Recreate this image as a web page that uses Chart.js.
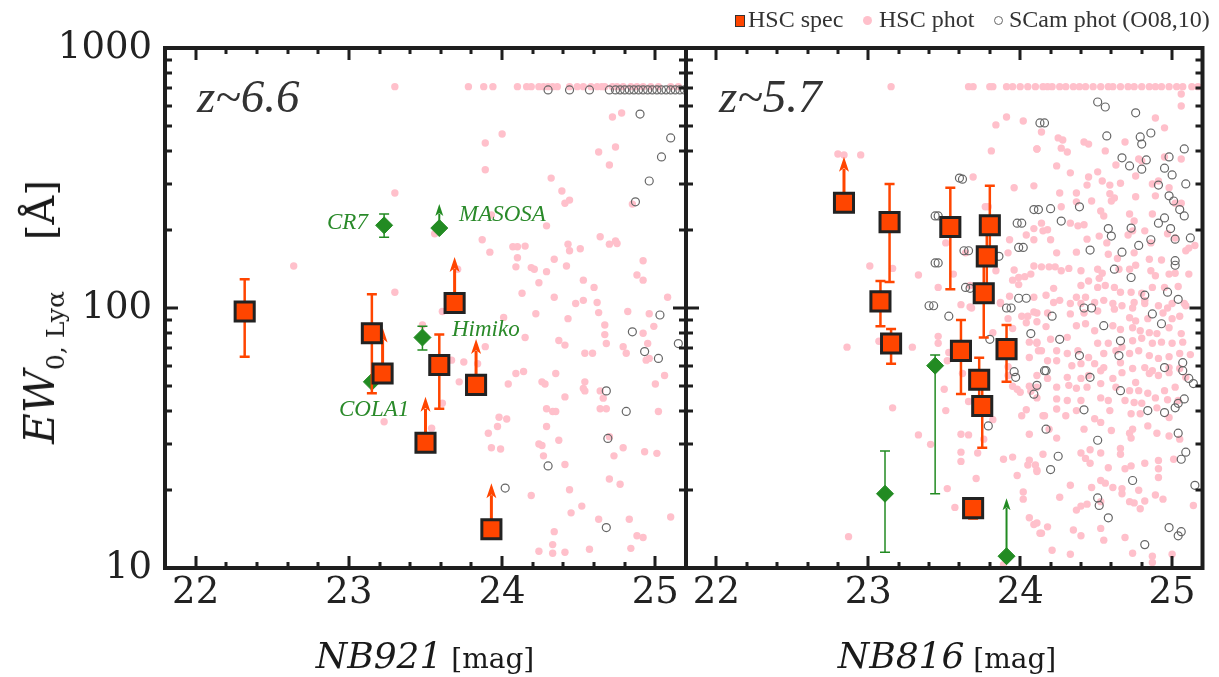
<!DOCTYPE html>
<html>
<head>
<meta charset="utf-8">
<script src="https://cdn.jsdelivr.net/npm/chart.js@4.4.1/dist/chart.umd.min.js"></script>
<style>
  html, body { margin: 0; padding: 0; background: #fff; }
  #wrap { position: relative; width: 1219px; height: 677px; overflow: hidden; }
  canvas { position: absolute; left: 0; top: 0; }
  .txt { position: absolute; white-space: nowrap; line-height: 1; }
  .zlab { font: italic 47px 'Liberation Serif'; color: #333; top: 69px; }
  .lit { font: italic 23px 'Liberation Serif'; color: #2a8a2a; }
  .leg { font: 24px 'Liberation Serif'; color: #333; top: 6px; }
  .mk { position: absolute; box-sizing: border-box; }
  .xt { font-family: 'DejaVu Serif'; color: #1a1a1a; top: 638px; transform: translateX(-50%); }
</style>
</head>
<body>
<div id="wrap">
  <canvas id="left921" width="1219" height="677"></canvas>
  <canvas id="right816" width="1219" height="677"></canvas>

  <div class="mk" style="left:735px;top:15px;width:10px;height:12px;background:#ff4500;border:1.5px solid #333"></div>
  <div class="txt leg" style="left:748px">HSC spec</div>
  <div class="mk" style="left:863px;top:16px;width:9px;height:9px;border-radius:50%;background:#ffc0cb"></div>
  <div class="txt leg" style="left:879px">HSC phot</div>
  <div class="mk" style="left:994px;top:16px;width:9px;height:9px;border-radius:50%;border:1px solid #666"></div>
  <div class="txt leg" style="left:1009px">SCam phot (O08,10)</div>

  <div class="txt zlab" style="left:197px">z~6.6</div>
  <div class="txt zlab" style="left:719px">z~5.7</div>

  <div class="txt lit" style="left:327px;top:209px">CR7</div>
  <div class="txt lit" style="left:459px;top:201px">MASOSA</div>
  <div class="txt lit" style="left:452px;top:316px">Himiko</div>
  <div class="txt lit" style="left:339px;top:396px">COLA1</div>

  <div class="txt xt" style="left:425px"><span style="font-style:italic;font-size:36px">NB921</span><span style="font-size:28px"> [mag]</span></div>
  <div class="txt xt" style="left:947px"><span style="font-style:italic;font-size:36px">NB816</span><span style="font-size:28px"> [mag]</span></div>

  <div class="txt" style="left:40px;top:312px;transform:translate(-50%,-50%) rotate(-90deg);font-family:'DejaVu Serif';color:#1a1a1a">
    <span style="font-style:italic;font-size:42px">EW</span><span style="font-size:25px;position:relative;top:10px">0, Lyα</span><span style="font-size:40px">&nbsp;&nbsp;&nbsp;&nbsp;[Å]</span>
  </div>
</div>

<script>
// EW0(Lya) vs NB magnitude, z~6.6 (NB921) and z~5.7 (NB816)
const magTicks = [22, 23, 24, 25];
const ewTicks = [10, 100, 1000];

// z~6.6 spectroscopic (HSC spec)
const spec921Mag = [22.32, 23.15, 23.22, 23.50, 23.59, 23.69, 23.83, 23.93];
const spec921EW  = [97, 80, 56, 30.3, 60.4, 104.5, 50.6, 14.1];
const spec921Lo  = [65, 47, null, null, 41, null, null, null];
const spec921Hi  = [129, 113, null, null, 79, null, null, null];
const spec921Lim = [false, false, true, true, false, true, true, true];

// z~6.6 known objects
const lit921Name = ['CR7', 'MASOSA', 'Himiko', 'COLA1'];
const lit921Mag  = [23.23, 23.59, 23.48, 23.15];
const lit921EW   = [208, 203, 77, 52];
const lit921Lo   = [187, null, 69, null];
const lit921Hi   = [230, null, 85, null];
const lit921Lim  = [false, true, false, false];

// z~5.7 spectroscopic (HSC spec)
const spec816Mag = [22.84, 23.14, 23.08, 23.15, 23.54, 23.80, 23.78, 23.76, 23.61, 23.73, 23.75, 23.91, 23.69];
const spec816EW  = [254, 214, 106, 73, 205, 208, 158, 114, 68.4, 53, 42, 69.5, 17];
const spec816Lo  = [null, 126, 85, 61, 118, 150, 110, 77, 46.7, 40, 29, 52, 15.5];
const spec816Hi  = [null, 300, 127, 83, 290, 295, 210, 150, 90, 64.3, 52, 86, 18.5];
const spec816Lim = [true, false, false, false, false, false, false, false, false, false, false, false, false];

// z~5.7 known objects
const lit816Mag = [23.11, 23.44, 23.91];
const lit816EW  = [19.3, 60, 11.1];
const lit816Lo  = [11.5, 19.3, null];
const lit816Hi  = [28.2, 66, null];
const lit816Lim = [false, false, true];

// HSC photometric candidates [mag, EW]
const phot921 = [
  [23.30,710],[23.78,710],[23.88,710],[23.94,710],[24.10,710],[24.16,710],[24.19,710],[24.24,710],[24.27,710],[24.30,710],
  [24.33,710],[24.36,710],[24.44,710],[24.49,710],[24.53,710],[24.58,710],[24.62,710],[24.65,710],[24.67,710],[24.72,710],
  [24.75,710],[24.79,710],[24.84,710],[24.88,710],[24.92,710],[24.97,710],[25.02,710],[25.10,710],[25.15,710],
  [24.72,543],[24.78,562],[24.00,467],[23.89,431],[24.63,398],[24.74,416],[23.89,340],[24.70,355],[24.32,316],[24.39,282],
  [24.41,253],[24.44,260],[23.30,277],[24.85,251],[23.93,228],[24.29,207],[23.56,193],[23.87,183],[23.92,164],[24.07,172],
  [24.10,172],[24.15,173],[24.43,176],[24.44,166],[24.51,169],[24.64,188],[24.70,176],[24.74,181],[24.75,177],[24.10,156],
  [24.34,154],[24.92,152],[22.64,145],[23.71,141],[24.09,144],[24.19,143],[24.21,141],[24.29,138],[24.42,145],[24.24,125],
  [24.53,128],[24.60,120],[24.88,134],[24.92,128],[23.30,115],[24.13,114],[24.34,110],[24.53,107],[24.48,104],[24.62,105],
  [25.08,110],[24.01,92],[24.22,95],[24.43,91],[24.63,96],[24.82,97],[24.96,95],[24.99,85],[24.15,77],[24.37,75],
  [24.41,72],[24.67,86],[24.67,79],[24.68,73],[24.79,71],[24.92,80],[24.95,73],[23.89,71],[23.67,63],[23.75,62],
  [23.84,61],[24.54,67],[24.59,67],[24.81,67],[24.94,63],[24.96,64],[24.09,56],[24.14,57],[24.35,56],[24.26,52],
  [24.28,51],[24.54,52],[24.53,49],[24.54,48],[24.64,48],[24.66,45],[25.06,55],[25.00,51],[23.72,52],[24.04,51],
  [24.41,45.5],[24.29,41],[24.33,40],[24.35,40],[24.64,41],[24.68,41],[25.02,40],[23.98,38],[24.03,37.4],[23.97,35],
  [23.91,33],[24.29,35],[23.93,29],[23.99,28.7],[24.24,30],[24.26,29.6],[24.27,27],[24.37,31],[24.41,25],[24.70,32],
  [24.79,29],[24.73,27],[24.93,28],[25.01,27.6],[23.54,34.5],[23.23,36.5],[23.61,43],[23.48,86],[23.61,97],[24.70,22],
  [24.77,21],[24.44,20],[24.19,19],[24.45,16.3],[24.52,17.3],[24.63,15.4],[24.83,15.4],[25.10,15.7],[24.34,13.8],[24.88,13.3],
  [24.92,13.1],[24.33,12.3],[24.24,11.6],[24.33,11.4],[24.41,11.5],[24.57,11.8],[24.84,11.9]
];

// Suprime-Cam photometric (O08,10) [mag, EW]
const scam921 = [
  [24.30,690],[24.44,690],[24.57,690],[24.70,690],[24.74,690],[24.77,690],[24.80,690],[24.83,690],[24.86,690],[24.89,690],
  [24.92,690],[24.95,690],[24.98,690],[25.01,690],[25.04,690],[25.07,690],[25.10,690],[25.13,690],[25.16,690],[25.19,690],
  [24.90,557],[25.10,451],[25.04,381],[24.96,308],[24.87,256],[25.03,94],[24.85,81],[24.93,68],[25.02,64],[25.15,73],
  [24.68,48],[24.81,40],[24.69,31.5],[24.30,24.7],[24.02,20.3],[24.68,14.3]
];

const phot816 = [
  [23.15,710],[23.66,710],[23.69,710],[23.80,710],[23.82,710],[23.91,710],[23.95,710],[24.00,710],[24.05,710],[24.10,710],
  [24.15,710],[24.18,710],[24.21,710],[24.26,710],[24.30,710],[24.35,710],[24.39,710],[24.43,710],[24.48,710],[24.53,710],
  [24.58,710],[24.61,710],[24.66,710],[24.71,710],[24.75,710],[24.80,710],[24.85,710],[24.89,710],[24.93,710],[24.98,710],
  [25.03,710],[25.07,710],[25.13,710],[25.17,710],
  [22.80,391],[22.84,388],[22.95,388],[23.01,145],[22.86,70.7],[22.87,13.2],[23.07,74.5],
  [23.91,543],[23.84,506],[24.02,524],[24.11,409],[23.81,402],[23.69,319],[23.96,290],[24.09,295],[23.77,245],[23.79,245],
  [23.93,183],[24.04,191],[24.09,183],[24.09,202],[23.92,163],[23.64,163],[23.51,178],[23.96,140],[23.95,128],[23.99,131],
  [24.03,132],[24.07,135],[23.99,123],[24.09,145],[23.33,134],[23.16,142],[23.46,120],[23.56,135],[23.67,122],[23.61,103],
  [23.67,101],[23.87,105],[23.93,111],[24.09,110],[23.84,139],
  [23.68,100],[23.87,104],[23.92,91],[24.01,93],[24.05,93],[24.09,96.5],[24.04,87.7],[24.11,88.5],[23.95,83.4],[23.46,77.8],
  [23.46,73.2],[23.29,70.7],[23.82,80.4],[24.06,73.9],[24.11,73.2],[24.12,68.5],[24.06,64.5],[23.53,67.4],[23.52,62.7],[23.16,41.3],
  [23.50,48.7],[23.51,40.3],[23.62,56],[23.66,43.7],[23.92,59.5],[23.92,55],[23.95,50],[23.98,48.7],[24.00,47.4],[24.06,50],
  [24.07,47.8],[24.04,40.6],[24.01,38.5],[24.06,32.7],[24.15,38.5],[23.82,37.2],[23.76,31.3],[23.61,32.7],[23.66,32.5],[23.33,32.5],
  [23.41,29.9],[23.61,27.9],[23.61,25.7],[23.72,27.7],[23.89,26.2],[23.95,26.7],[24.06,26],[24.05,24.9],[24.10,24.9],[24.11,23.5],
  [23.98,22.7],[23.71,22.1],[24.02,19.6],[24.02,18.4],[23.52,20.2],[23.57,17.1],[24.06,15.6],[24.09,14.7],[24.13,13.6],[23.89,10.3],
  [25.06,665],[25.06,598],[24.89,538],[24.95,493],[24.14,475],[24.25,451],[24.28,443],[24.42,435],[24.45,427],[24.11,409],
  [24.27,412],[24.31,398],[24.56,402],[24.69,435],[24.78,374],[24.80,368],[24.95,381],[25.06,374],[24.24,352],[24.33,331],
  [24.51,334],[24.63,355],[24.76,322],[24.45,319],[24.44,297],[24.54,308],[24.59,297],[24.66,302],[24.91,308],[24.98,290],
  [24.87,300],[24.26,277],[24.37,277],[24.59,275],[24.62,265],[24.76,268],[24.89,270],[24.27,245],[24.37,256],[24.47,258],
  [24.60,258],[25.02,253],[25.06,253],[24.53,236],[24.55,226],[24.72,230],[24.75,216],[24.87,230],[24.14,212],[24.33,212],
  [24.38,207],[24.42,209],[24.15,198],[24.18,200],[24.20,183],[24.44,184],[24.52,189],[24.57,178],[24.74,198],[24.82,198],
  [24.71,191],[24.86,178],[25.02,186],[24.97,193],[25.11,170],[25.09,166],[25.15,174],[24.24,163],[24.37,164],[24.58,161],
  [24.64,155],[24.75,163],[24.85,154],[24.93,153],[24.14,144],[24.19,144],[24.23,144],[24.27,139],[24.32,142],[24.40,139],
  [24.51,141],[24.54,136],[24.52,130],[24.45,127],[24.65,141],[24.72,141],[24.76,146],[24.86,139],[24.89,133],[24.98,135],
  [25.02,136],[25.11,135],[24.40,122],[24.51,120],[24.56,122],[24.62,120],[24.66,115],[24.73,115],[24.80,114],[24.87,120],
  [24.95,120],[25.04,121],[24.22,119],[24.17,112],[24.26,107],[24.37,110],[24.43,110],[24.55,107],[24.75,105],[24.82,107],
  [25.00,104],[25.08,104],
  [24.22,105],[24.33,104],[24.40,104],[24.49,105],[24.61,104],[24.67,102],[24.74,100],[24.82,104],[24.91,102],[24.97,100],
  [25.09,102],[24.11,95.7],[24.18,95.7],[24.33,94.9],[24.42,95.7],[24.51,97.4],[24.62,99],[24.72,91.7],[24.76,89.2],[24.84,91],
  [24.94,95.7],[25.00,91],[25.05,93],[24.17,84.8],[24.37,85.5],[24.43,87],[24.49,81.7],[24.61,85.5],[24.66,82.7],[24.74,84],
  [24.79,81.7],[24.85,80.4],[24.90,79.7],[24.98,84],[25.06,79.7],[24.11,73.9],[24.20,75.8],[24.31,77.1],[24.38,68.5],[24.51,73.2],
  [24.58,73.2],[24.67,70.7],[24.74,74.8],[24.80,76.5],[24.87,73.2],[24.93,73.9],[25.00,73.2],[25.07,73.9],[24.14,68.5],[24.24,68.5],
  [24.31,66.8],[24.45,64.5],[24.55,66.8],[24.63,68.5],[24.72,66.8],[24.78,68.5],[24.85,65.6],[24.91,64],[24.98,65],[25.05,66.8],
  [25.12,66.2],[24.18,62.7],[24.24,62.7],[24.34,60],[24.40,61.1],[24.49,61.1],[24.55,59],[24.66,61.6],[24.74,58.5],[24.82,59],
  [24.87,57.4],[24.98,59],[25.05,58.5],[24.11,55],[24.18,53.6],[24.31,54.1],[24.40,53.6],[24.45,55],[24.53,57.4],[24.61,53.6],
  [24.67,56.4],[24.76,51.7],[24.85,56],[24.91,55],[24.98,56.4],[25.09,54.1],[24.11,49.6],[24.24,49.6],[24.32,50.4],[24.37,49.1],
  [24.44,49.6],[24.53,51.2],[24.63,49.6],[24.72,48.1],[24.78,48.1],[24.84,47],[24.95,48.1],[25.02,49.6],[24.11,45.1],[24.24,44.7],
  [24.31,44.1],[24.40,44.1],[24.53,45.1],[24.58,44.1],[24.69,44.1],[24.75,43.3],[24.80,43],[24.89,45.1],[24.97,44.4],[25.04,44.1],
  [24.16,38.5],[24.24,40.9],[24.30,38.5],[24.37,40.3],[24.49,37.5],[24.59,40.3],[24.73,39.2],[24.79,39.2],[24.90,41.3],[24.98,37.9],
  [24.19,34.2],[24.24,31.6],[24.42,34.2],[24.53,36.3],[24.60,33.8],[24.72,33],[24.74,34.2],[24.84,35.2],[24.90,33],[24.98,32.2],
  [25.05,31.3],[24.15,27.4],[24.40,27.7],[24.46,28.5],[24.53,27.7],[24.66,28.8],[24.66,27.4],[24.73,31.6],[24.91,25.9],[25.01,26.2],
  [24.11,23.8],[24.43,26.4],[24.46,25.3],[24.58,24.3],[24.69,24.1],[24.73,24.7],[24.82,25.3],[24.91,24.1],[24.91,22.3],[24.33,20.8],
  [24.47,20.4],[24.53,21.7],[24.56,21.2],[24.61,20.4],[24.67,20.2],[24.67,19.3],[24.78,19.9],[24.82,18.1],[24.89,19.1],[24.94,18.4],
  [24.26,18.7],[24.40,17.3],[24.44,17.6],[24.53,18],[24.72,18],[24.75,17.8],[24.79,16.9],[25.14,17.4],[24.37,16.7],[24.11,14.9],
  [24.18,14.4],[24.53,14.2],[24.69,13.1],[24.35,14],[24.40,13.3],[24.14,13.6],[24.55,12.8],[24.21,11.7],[24.33,11.3],[24.74,11.4],
  [24.87,11.1],[24.87,10.5],[25.00,11.3]
];

const scam816 = [
  [24.51,620],[24.56,593],[24.76,563],[24.13,515],[24.79,455],[24.80,427],[24.86,471],[24.57,459],[24.67,378],[24.72,352],
  [24.83,371],[24.80,342],[24.98,381],[24.95,345],[25.00,325],[25.08,409],[24.91,297],[24.98,270],[25.01,258],[25.05,239],
  [25.08,226],[25.09,300],[24.39,245],[24.20,241],[24.09,239],[24.27,216],[23.98,212],[23.60,316],[23.44,226],[23.63,166],
  [23.44,149],[23.99,171],[24.46,167],[24.58,202],[24.60,189],[24.67,164],[24.73,203],[24.78,174],[24.86,183],[24.91,212],
  [24.95,222],[24.99,202],[25.02,184],[25.12,186],[24.62,141],[24.73,131],[25.02,152],[25.02,146],[25.04,108],[24.97,115],
  [24.82,112],[24.42,100],[23.99,109],[23.91,100],[23.64,120],[23.40,102],[23.66,166],[23.86,158],[24.02,171],[24.01,212],
  [24.12,239],[24.16,515],[24.21,93],[24.26,75.8],[24.47,100],[24.55,85.5],[24.39,65.6],[24.65,65.6],[24.17,57.4],[24.11,50.4],
  [24.46,54.1],[24.66,48.1],[24.95,59],[25.07,61.6],[25.07,57.4],[25.11,53.6],[25.14,51.2],[25.08,44.7],[25.02,41.3],[25.04,43],
  [24.95,39.6],[24.84,40.3],[24.42,40.6],[24.17,34.2],[24.51,31],[25.04,33],[25.09,27.9],[25.06,26.2],[24.25,26.9],[24.20,23.9],
  [24.74,21.7],[24.51,18.6],[24.52,17.4],[24.58,15.6],[25.15,20.8],[24.98,14.3],[25.04,13.3],[25.06,13.8],[24.82,12.3],[24.66,74.8],
  [24.93,87],[24.87,94.9],[23.43,102],[23.53,93],[23.80,75.8],[23.94,100],[24.07,79.7],[23.96,56.9],[23.97,54.1],[24.09,46.6],
  [23.79,35.2],[24.16,57.4],[23.46,226],[23.46,149],[23.67,119],[23.62,313],[24.04,109]
];

const ORANGE = '#ff4500';
const GREEN = '#228b22';
const tickFont = { family: 'DejaVu Serif', size: 37 };

function pts(mags, ews) { return mags.map((m, i) => ({ x: m, y: ews[i] })); }
function pairs(list) { return list.map(p => ({ x: p[0], y: p[1] })); }

// error bars + lower-limit arrows, drawn right before their dataset
const errorBarPlugin = {
  id: 'errorBars',
  beforeDatasetDraw(chart, args) {
    const ds = chart.data.datasets[args.index];
    if (!ds.errLo) return;
    const { ctx, chartArea: a } = chart;
    const xs = chart.scales.x, ys = chart.scales.y;
    ctx.save();
    ctx.beginPath();
    ctx.rect(a.left, a.top, a.right - a.left, a.bottom - a.top);
    ctx.clip();
    ctx.strokeStyle = ds.errColor;
    ctx.fillStyle = ds.errColor;
    ds.data.forEach((p, i) => {
      const px = xs.getPixelForValue(p.x);
      const py = ys.getPixelForValue(p.y);
      const lo = ds.errLo[i], hi = ds.errHi[i];
      if (lo != null && hi != null) {
        const yl = ys.getPixelForValue(lo), yh = ys.getPixelForValue(hi);
        ctx.lineWidth = ds.errWidth;
        ctx.beginPath();
        ctx.moveTo(px, yl); ctx.lineTo(px, yh);
        ctx.moveTo(px - ds.capW, yl); ctx.lineTo(px + ds.capW, yl);
        ctx.moveTo(px - ds.capW, yh); ctx.lineTo(px + ds.capW, yh);
        ctx.stroke();
      }
      if (ds.lim[i]) {
        const tip = py - ds.arrowLen;
        ctx.lineWidth = ds.arrowWidth;
        ctx.beginPath();
        ctx.moveTo(px, py); ctx.lineTo(px, tip + ds.headL * 0.8);
        ctx.stroke();
        ctx.beginPath();
        ctx.moveTo(px, tip);
        ctx.lineTo(px - ds.headW, tip + ds.headL);
        ctx.lineTo(px, tip + ds.headL * 0.75);
        ctx.lineTo(px + ds.headW, tip + ds.headL);
        ctx.closePath();
        ctx.fill();
      }
    });
    ctx.restore();
  }
};

// thick frame with inward ticks on all four sides
const framePlugin = {
  id: 'frame',
  afterDatasetsDraw(chart) {
    const { ctx, chartArea: a } = chart;
    const xs = chart.scales.x, ys = chart.scales.y;
    ctx.save();
    ctx.strokeStyle = '#1e1e1e';
    ctx.lineWidth = 3;
    ctx.beginPath();
    for (let k = 0; k <= 17; k++) {
      const v = 21.8 + k * 0.2;
      const major = Math.abs(v - Math.round(v)) < 1e-6;
      const len = major ? 12 : 6;
      const px = Math.round(xs.getPixelForValue(v));
      if (px <= a.left + 2 || px >= a.right - 2) continue;
      ctx.moveTo(px, a.bottom); ctx.lineTo(px, a.bottom - len);
      ctx.moveTo(px, a.top); ctx.lineTo(px, a.top + len);
    }
    [10, 100].forEach(d => {
      for (let m = 1; m <= 9; m++) {
        const v = d * m;
        const len = m === 1 ? 13 : 7;
        const py = Math.round(ys.getPixelForValue(v));
        if (py <= a.top + 2 || py >= a.bottom - 2) continue;
        ctx.moveTo(a.left, py); ctx.lineTo(a.left + len, py);
        ctx.moveTo(a.right, py); ctx.lineTo(a.right - len, py);
      }
    });
    ctx.stroke();
    ctx.lineWidth = 4;
    ctx.strokeRect(a.left, a.top, a.right - a.left, a.bottom - a.top);
    ctx.restore();
  }
};

function buildDatasets(phot, scam, lit, spec) {
  return [
    { data: pairs(phot), pointStyle: 'circle', radius: 3.7, backgroundColor: '#ffc0cb', borderWidth: 0, order: 4, clip: 0 },
    { data: pairs(scam), pointStyle: 'circle', radius: 4, backgroundColor: 'rgba(0,0,0,0)', borderColor: '#666', borderWidth: 1.2, order: 3, clip: 0 },
    { data: pts(lit.mag, lit.ew), pointStyle: 'rectRot', radius: 8.5, backgroundColor: GREEN, borderColor: GREEN, borderWidth: 1, order: 2, clip: 0,
      errLo: lit.lo, errHi: lit.hi, lim: lit.lim, errColor: GREEN, errWidth: 1.5, capW: 5, arrowLen: lit.arrowLen, arrowWidth: 2, headW: 4, headL: 12 },
    { data: pts(spec.mag, spec.ew), pointStyle: 'rect', radius: 13.5, backgroundColor: ORANGE, borderColor: '#222', borderWidth: 3, order: 1, clip: 0,
      errLo: spec.lo, errHi: spec.hi, lim: spec.lim, errColor: ORANGE, errWidth: 2.5, capW: 5, arrowLen: 46, arrowWidth: 3, headW: 5, headL: 15 }
  ];
}

function panelOptions(padLeft, padRight, showY) {
  return {
    responsive: false,
    animation: false,
    devicePixelRatio: 1,
    events: [],
    layout: { padding: { left: padLeft, right: padRight, top: 48, bottom: 0 } },
    plugins: { legend: { display: false }, tooltip: { enabled: false } },
    scales: {
      x: {
        type: 'linear', min: 21.8, max: 25.2,
        grid: { display: false, drawTicks: false }, border: { display: false },
        afterBuildTicks: s => { s.ticks = magTicks.map(v => ({ value: v })); },
        afterFit: s => { s.height = 109; },
        ticks: { font: tickFont, color: '#222', padding: 3, autoSkip: false, maxRotation: 0, callback: v => String(v) }
      },
      y: {
        type: 'logarithmic', min: 10, max: 1000, display: showY,
        grid: { display: false, drawTicks: false }, border: { display: false },
        afterBuildTicks: s => { s.ticks = ewTicks.map(v => ({ value: v })); },
        afterFit: s => { s.width = showY ? 165 : 0; },
        ticks: { font: tickFont, color: '#222', padding: 13, autoSkip: false, callback: v => String(v) }
      }
    }
  };
}

new Chart(document.getElementById('left921'), {
  type: 'scatter',
  data: {
    datasets: buildDatasets(phot921, scam921,
      { mag: lit921Mag, ew: lit921EW, lo: lit921Lo, hi: lit921Hi, lim: lit921Lim, arrowLen: 24 },
      { mag: spec921Mag, ew: spec921EW, lo: spec921Lo, hi: spec921Hi, lim: spec921Lim })
  },
  options: panelOptions(0, 1219 - 686, true),
  plugins: [errorBarPlugin, framePlugin]
});

new Chart(document.getElementById('right816'), {
  type: 'scatter',
  data: {
    datasets: buildDatasets(phot816, scam816,
      { mag: lit816Mag, ew: lit816EW, lo: lit816Lo, hi: lit816Hi, lim: lit816Lim, arrowLen: 58 },
      { mag: spec816Mag, ew: spec816EW, lo: spec816Lo, hi: spec816Hi, lim: spec816Lim })
  },
  options: panelOptions(686, 1219 - 1207, false),
  plugins: [errorBarPlugin, framePlugin]
});
</script>
</body>
</html>
